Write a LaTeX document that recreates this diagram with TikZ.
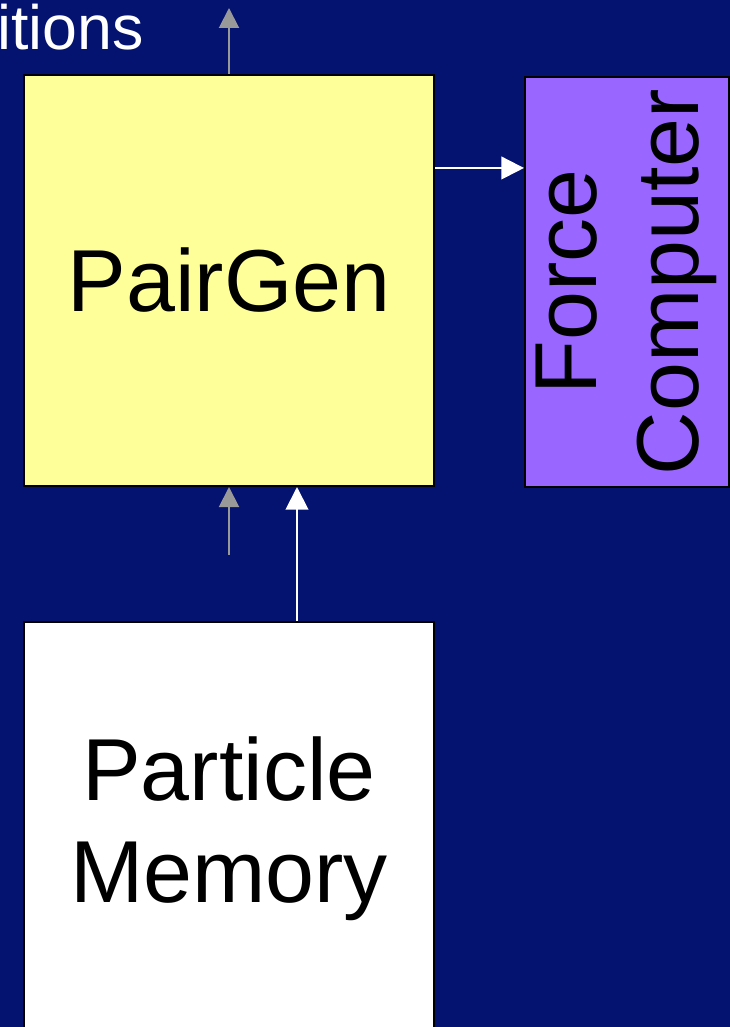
\documentclass[tikz,border=0pt]{standalone}
\usepackage{fontspec}
\setmainfont{Liberation Sans}
\usepackage{tikz}
\usetikzlibrary{positioning,arrows.meta}
\definecolor{navy}{RGB}{4,18,112}
\definecolor{pgyellow}{HTML}{FFFF99}
\definecolor{fcpurple}{HTML}{9966FF}
\definecolor{wiregray}{HTML}{999999}
\tikzset{>={Triangle[length=17pt,width=17pt]},
  block/.style={draw=black,line width=1.5pt,inner sep=0pt,align=center,
    font=\fontsize{66}{76.5}\selectfont},
  wire/.style={->,white,line width=1.5pt},
  graywire/.style={->,wiregray,line width=1.5pt,>={Triangle[length=15pt,width=15pt]}}}

\begin{document}
\begin{tikzpicture}[x=0.75pt,y=-0.75pt]
    % background
    \fill[navy] (0,0) rectangle (730,1027);
    \useasboundingbox (0,0) rectangle (730,1027);
    % set up the nodes
    \node[block,fill=pgyellow,minimum width=307.5pt,minimum height=308.25pt] (pairgen) at (229,280.5) {PairGen};
    \node[block,fill=fcpurple,minimum width=153pt,minimum height=307.5pt] (force) at (627,282)
        {\rotatebox{90}{\begin{tabular}{@{}c@{}}Force\\Computer\end{tabular}}};
    \node[block,fill=white,minimum width=307.5pt,minimum height=310.5pt] (memory) at (229,829) {Particle\\Memory};
    \node[white,anchor=base east,inner sep=0pt,font=\fontsize{47}{56}\selectfont] (positions) at (144,50) {itions};
    \coordinate (out) at (229,8);
    \coordinate (in) at (229,555);
    \coordinate (feed) at ([yshift=84.4pt]pairgen.east);
    % draw arrows between them
    \draw[graywire] (pairgen.north) -- (out);
    \draw[graywire] (in) -- (pairgen.south);
    \draw[wire] ([xshift=51pt]memory.north) -- ([xshift=51pt]pairgen.south);
    \draw[wire] (feed) -- (feed -| force.west);
\end{tikzpicture}
\end{document}
